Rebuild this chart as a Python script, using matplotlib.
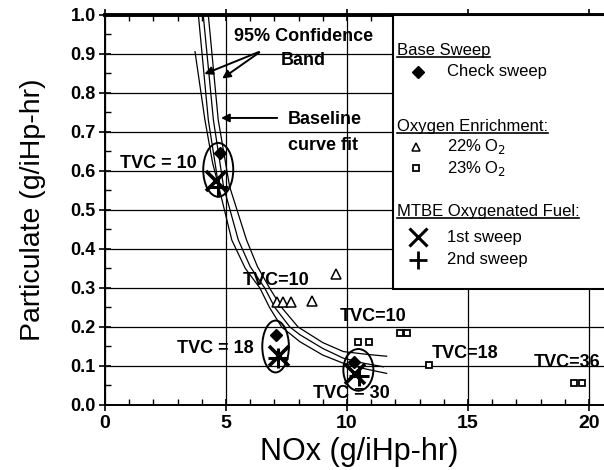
import matplotlib.pyplot as plt
from matplotlib.patches import Ellipse, Rectangle
from matplotlib.ticker import MultipleLocator, FormatStrFormatter

plt.rcParams['font.family'] = ['Liberation Sans', 'DejaVu Sans']

# baseline fit and its 95% confidence band
fit_x = [4.06, 4.48, 4.9, 5.51, 6.0, 6.6, 7.02, 7.64, 8.06, 9.0, 9.85, 10.7, 11.5]
fit_y = [1.0, 0.731, 0.56, 0.423, 0.355, 0.30, 0.25, 0.20, 0.18, 0.145, 0.12, 0.107, 0.098]
lo_x = [3.86, 4.27, 4.7, 5.24, 5.8, 6.4, 6.8, 7.3, 8.06, 9.0, 9.85, 10.8, 11.64]
lo_y = [1.0, 0.731, 0.56, 0.423, 0.35, 0.30, 0.25, 0.20, 0.162, 0.128, 0.107, 0.092, 0.081]
hi_x = [4.27, 4.68, 5.15, 5.85, 6.3, 6.8, 7.3, 7.98, 9.0, 9.85, 10.8, 11.64]
hi_y = [1.0, 0.731, 0.56, 0.423, 0.355, 0.30, 0.25, 0.20, 0.16, 0.137, 0.13, 0.125]
extra_x = [3.72, 4.13, 4.45, 4.7]
extra_y = [0.906, 0.731, 0.62, 0.56]

# base sweep check points
check_x = [4.75, 7.05, 10.3]
check_y = [0.645, 0.18, 0.11]

# oxygen enrichment
o22_x = [7.1, 7.35, 7.7, 8.55, 9.55]
o22_y = [0.265, 0.265, 0.265, 0.267, 0.335]
o23_x = [10.47, 10.9, 12.2, 12.5, 13.4, 19.4, 19.7]
o23_y = [0.161, 0.161, 0.184, 0.184, 0.103, 0.057, 0.057]

# MTBE oxygenated fuel
mtbe1_x = [4.6, 7.2, 10.35]
mtbe1_y = [0.575, 0.125, 0.08]
mtbe2_x = [4.65, 7.15, 10.5]
mtbe2_y = [0.56, 0.12, 0.075]

# TVC groups circled on the chart
groups_x = [4.68, 7.05, 10.47]
groups_y = [0.603, 0.15, 0.09]
groups_w = [1.24, 1.1, 1.24]
groups_h = [0.138, 0.133, 0.107]

tvc_labels = ['TVC = 10', 'TVC=10', 'TVC = 18', 'TVC=10', 'TVC = 30', 'TVC=18', 'TVC=36']
tvc_x = [0.62, 5.7, 2.96, 9.7, 8.6, 13.5, 17.7]
tvc_y = [0.62, 0.32, 0.146, 0.228, 0.03, 0.133, 0.108]

fig = plt.figure(figsize=(6.04, 4.70), dpi=100)
ax = fig.add_axes([0.1738, 0.1383, 0.8414, 0.8298])
ax.set_xlim(0, 21)
ax.set_ylim(0, 1.0)

ax.xaxis.set_major_locator(MultipleLocator(5))
ax.xaxis.set_minor_locator(MultipleLocator(1))
ax.yaxis.set_major_locator(MultipleLocator(0.1))
ax.yaxis.set_minor_locator(MultipleLocator(0.05))
ax.yaxis.set_major_formatter(FormatStrFormatter('%.1f'))
ax.grid(True, which='major', color='black', linewidth=0.9)
ax.set_axisbelow(True)
ax.tick_params(which='major', direction='inout', length=9, width=1.2,
               top=True, color='black')
ax.tick_params(which='minor', direction='in', length=4, width=1.0, top=True)
ax.tick_params(axis='x', labelsize=14, pad=3)
ax.tick_params(axis='y', labelsize=13, pad=2)
for lab in ax.get_xticklabels() + ax.get_yticklabels():
    lab.set_fontweight('bold')
ax.spines['top'].set_linewidth(2.8)
ax.spines['left'].set_linewidth(1.4)
ax.spines['bottom'].set_linewidth(1.4)
ax.spines['right'].set_visible(False)

ax.set_xlabel('NOx (g/iHp-hr)', fontsize=22, labelpad=3)
ax.set_ylabel('Particulate (g/iHp-hr)', fontsize=20.5, labelpad=18)

for cx, cy in [(fit_x, fit_y), (lo_x, lo_y), (hi_x, hi_y), (extra_x, extra_y)]:
    ax.plot(cx, cy, color='black', linewidth=0.9, zorder=2)

ax.plot(check_x, check_y, 'D', color='black', markersize=6.5, zorder=4)
ax.plot(o22_x, o22_y, '^', mfc='white', mec='black', mew=1.1, markersize=7, zorder=4)
ax.plot(o23_x, o23_y, 's', mfc='white', mec='black', mew=1.3, markersize=5, zorder=4)
ax.plot(mtbe1_x, mtbe1_y, 'x', color='black', mew=2.6, markersize=15, zorder=4)
ax.plot(mtbe2_x, mtbe2_y, '+', color='black', mew=2.2, markersize=14, zorder=4)

for gx, gy, gw, gh in zip(groups_x, groups_y, groups_w, groups_h):
    ax.add_patch(Ellipse((gx, gy), gw, gh, fill=False, edgecolor='black',
                         linewidth=1.4, zorder=5))

for t, tx, ty in zip(tvc_labels, tvc_x, tvc_y):
    ax.text(tx, ty, t, fontsize=13, fontweight='bold', ha='left', va='center',
            zorder=6, clip_on=False)

# band and fit annotations
ax.text(8.2, 0.914, '95% Confidence\nBand', fontsize=13, fontweight='bold',
        ha='center', va='center', linespacing=1.55, zorder=6)
arrow = dict(arrowstyle='-|>', color='black', lw=1.4, mutation_scale=12)
ax.annotate('', xy=(4.0, 0.846), xytext=(6.47, 0.908), arrowprops=arrow)
ax.annotate('', xy=(4.75, 0.833), xytext=(6.47, 0.908), arrowprops=arrow)
ax.text(7.56, 0.699, 'Baseline\ncurve fit', fontsize=13, fontweight='bold',
        ha='left', va='center', linespacing=1.65, zorder=6)
ax.annotate('', xy=(4.68, 0.736), xytext=(7.23, 0.736), arrowprops=arrow)

# legend panel
ax.add_patch(Rectangle((11.9, 0.297), 10, 0.703, facecolor='white', edgecolor='black',
                       linewidth=1.5, zorder=7, clip_on=False))
headers = []
for txt, hy in [('Base Sweep', 0.910), ('Oxygen Enrichment:', 0.714),
                ('MTBE Oxygenated Fuel:', 0.496)]:
    headers.append(ax.text(12.05, hy, txt, fontsize=12, ha='left', va='center',
                           zorder=8))
ax.plot([12.95], [0.855], 'D', color='black', markersize=6, zorder=8)
ax.plot([12.85], [0.662], '^', mfc='white', mec='black', mew=1.1, markersize=6, zorder=8)
ax.plot([12.85], [0.607], 's', mfc='white', mec='black', mew=1.3, markersize=5, zorder=8)
ax.plot([12.95], [0.43], 'x', color='black', mew=2.2, markersize=13, zorder=8)
ax.plot([12.95], [0.372], '+', color='black', mew=2.0, markersize=13, zorder=8)
for txt, ty in [('Check sweep', 0.855), ('22% O$_2$', 0.662), ('23% O$_2$', 0.607),
                ('1st sweep', 0.43), ('2nd sweep', 0.372)]:
    ax.text(14.15, ty, txt, fontsize=12, ha='left', va='center', zorder=8)

# underline the legend section headers
fig.canvas.draw()
inv = ax.transData.inverted()
for h in headers:
    bb = h.get_window_extent()
    (x0, y0), (x1, _) = inv.transform([(bb.x0, bb.y0), (bb.x1, bb.y1)])
    ax.plot([x0, x1], [y0 + 0.002, y0 + 0.002], color='black', linewidth=1.2,
            zorder=8, clip_on=False)

fig.savefig('out.png', dpi=100)
